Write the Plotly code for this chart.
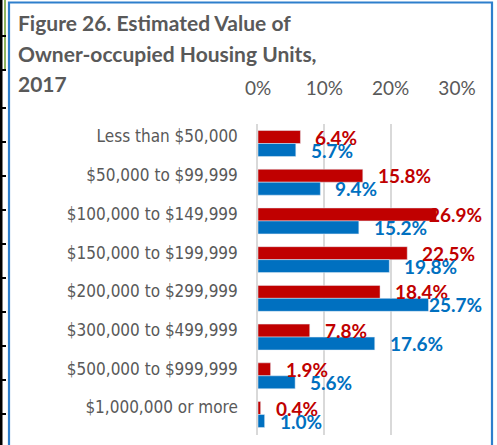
import plotly.graph_objects as go

# data
categories = ["Less than $50,000", "$50,000 to $99,999", "$100,000 to $149,999",
              "$150,000 to $199,999", "$200,000 to $299,999", "$300,000 to $499,999",
              "$500,000 to $999,999", "$1,000,000 or more"]
red_vals = [6.4, 15.8, 26.9, 22.5, 18.4, 7.8, 1.9, 0.4]
blue_vals = [5.7, 9.4, 15.2, 19.8, 25.7, 17.6, 5.6, 1.0]
tick_vals = [0, 10, 20, 30]
tick_text = ["0%", "10%", "20%", "30%"]
title_lines = ["Figure 26. Estimated Value of", "Owner-occupied Housing Units,", "2017"]

RED = "#C00000"
BLUE = "#0070C0"
GREY = "#595959"
W, H = 497, 445

fig = go.Figure()
fig.add_trace(go.Bar(y=categories, x=red_vals, orientation="h", marker_color=RED, name="red"))
fig.add_trace(go.Bar(y=categories, x=blue_vals, orientation="h", marker_color=BLUE, name="blue"))

# value labels, outside end; long ones pulled back inside the chart
anns = []
for vals, col, shift in [(red_vals, RED, -6.5), (blue_vals, BLUE, 6.5)]:
    for cat, v in zip(categories, vals):
        txt = f"{v:.1f}%"
        if v > 25:
            a = dict(x=30, xanchor="right", xshift=27)
        else:
            a = dict(x=v, xanchor="left", xshift=13)
        a.update(y=cat, xref="x", yref="y", yshift=-shift, text=txt, showarrow=False,
                 font=dict(family="Lato", size=19, color=col, weight="bold"))
        anns.append(a)

# title, one annotation per line (Excel line spacing)
for i, line in enumerate(title_lines):
    anns.append(dict(x=16 / W, y=1 - (23 + 30 * i) / H, xref="paper", yref="paper",
                     xanchor="left", yanchor="middle", showarrow=False, text=line,
                     font=dict(family="Lato", size=21, color=GREY, weight="bold")))

# frame lines
shapes = [
    dict(type="path", xref="paper", yref="paper",
         path=f"M {9/W} 0 L {9/W} {1-2.5/H} L {492/W} {1-2.5/H} L {492/W} 0",
         line=dict(color="#2E7FCC", width=2.2)),
    dict(type="rect", xref="paper", yref="paper", x0=0, x1=2.5 / W, y0=0, y1=1,
         fillcolor="black", line_width=0),
    dict(type="line", xref="paper", yref="paper", x0=5 / W, x1=5 / W, y0=1, y1=1 - 70 / H,
         line=dict(color="#8DB360", width=2)),
]
for ty in [36, 70, 108, 142, 176, 210, 244, 278, 312, 346, 380, 414]:
    shapes.append(dict(type="line", xref="paper", yref="paper", x0=0, x1=6 / W,
                       y0=1 - ty / H, y1=1 - ty / H, line=dict(color="black", width=2)))

fig.update_layout(
    width=W, height=H,
    margin=dict(l=0, r=0, t=0, b=0),
    paper_bgcolor="white", plot_bgcolor="white",
    barmode="group", bargap=0.33, bargroupgap=0,
    showlegend=False,
    annotations=anns, shapes=shapes,
    xaxis=dict(domain=[258 / W, 457 / W], range=[0, 30], side="top", automargin=False,
               tickvals=tick_vals, ticktext=tick_text,
               showgrid=True, gridcolor="#D9D9D9", gridwidth=1.5,
               zeroline=False, showline=False, ticks="", ticklabelstandoff=24,
               tickfont=dict(family="Lato", size=19, color=GREY)),
    yaxis=dict(domain=[1 - 434.5 / H, 1 - 123.5 / H], autorange="reversed", automargin=False,
               showgrid=False, zeroline=False, showline=True, linecolor="#D9D9D9", linewidth=1.5,
               ticks="", ticklabelstandoff=15, ticklabelshift=7,
               tickfont=dict(family="DejaVu Sans Condensed", size=17, color=GREY)),
)

# drop the browser's default 8px body margin so the figure fills the window
fig.write_html("out.html", config={"displayModeBar": False},
               post_script="document.body.style.margin='0';document.body.style.overflow='hidden';")
